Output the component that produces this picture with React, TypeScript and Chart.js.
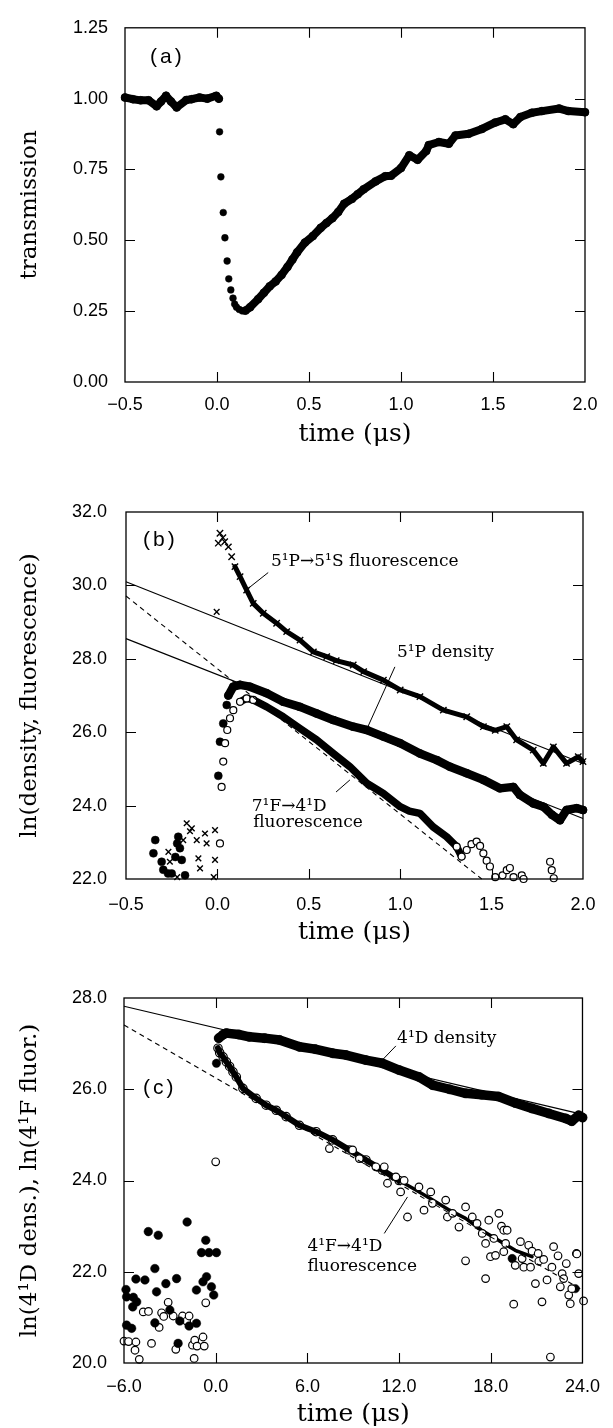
import React, { useEffect, useRef } from "react";
import { Chart, registerables } from "chart.js";

Chart.register(...registerables);

const W = 613;
const SERIF = '"DejaVu Serif", "Liberation Serif", serif';
const SANS = '"Liberation Sans", Arial, sans-serif';

// ---------------- Panel (a): transmission ----------------
const aXTicks = [-0.5, 0, 0.5, 1.0, 1.5, 2.0];
const aYTicks = [0, 0.25, 0.5, 0.75, 1.0, 1.25];
const aPreT = [-0.5, -0.457, -0.415, -0.372, -0.328, -0.304, -0.277, -0.25, -0.219, -0.167, -0.138, -0.095, -0.053, -0.004, 0.01];
const aPreV = [1.004, 0.998, 0.994, 0.994, 0.973, 0.99, 1.01, 0.99, 0.969, 0.995, 0.998, 1.004, 1.0, 1.01, 1.0];
const aDropT = [0.014, 0.021, 0.034, 0.043, 0.055, 0.064, 0.075, 0.087, 0.096, 0.106, 0.121, 0.138];
const aDropV = [0.883, 0.724, 0.598, 0.509, 0.427, 0.364, 0.325, 0.296, 0.275, 0.264, 0.256, 0.251];
const aRiseT = [0.155, 0.18, 0.223, 0.255, 0.287, 0.319, 0.351, 0.383, 0.41, 0.436, 0.478, 0.521, 0.564, 0.595, 0.627, 0.659, 0.691, 0.733, 0.765, 0.797, 0.862, 0.914, 0.946, 1.0, 1.045, 1.09, 1.137, 1.151, 1.206, 1.26, 1.296, 1.368, 1.44, 1.513, 1.567, 1.61, 1.649, 1.711, 1.766, 1.86, 1.91, 2.0];
const aRiseV = [0.252, 0.264, 0.292, 0.315, 0.338, 0.355, 0.378, 0.406, 0.432, 0.458, 0.492, 0.515, 0.544, 0.561, 0.578, 0.6, 0.629, 0.646, 0.663, 0.68, 0.708, 0.726, 0.728, 0.755, 0.8, 0.784, 0.815, 0.836, 0.847, 0.841, 0.87, 0.876, 0.893, 0.916, 0.927, 0.91, 0.935, 0.95, 0.956, 0.965, 0.956, 0.952];

// ---------------- Panel (b) ----------------
const bXTicks = [-0.5, 0, 0.5, 1.0, 1.5, 2.0];
const bYTicks = [22, 24, 26, 28, 30, 32];
// 5¹P→5¹S fluorescence (crosses)
const bFluT = [0.005, 0.014, 0.03, 0.04, 0.06, 0.078, 0.096, 0.124, 0.16, 0.196, 0.251, 0.324, 0.379, 0.452, 0.525, 0.598, 0.65, 0.743, 0.8, 0.908, 1.0, 1.108, 1.236, 1.364, 1.455, 1.52, 1.583, 1.637, 1.728, 1.783, 1.838, 1.91, 1.974, 2.0];
const bFluV = [31.15, 31.42, 31.3, 31.19, 31.05, 30.78, 30.51, 30.24, 29.87, 29.51, 29.24, 28.97, 28.74, 28.51, 28.19, 28.06, 27.95, 27.83, 27.65, 27.42, 27.15, 26.97, 26.6, 26.42, 26.15, 26.05, 26.15, 25.79, 25.51, 25.15, 25.6, 25.15, 25.33, 25.2];
const bFluOutT = [-0.004];
const bFluOutV = [29.28];
// 5¹P density (filled)
const bDenT = [0.005, 0.014, 0.032, 0.051, 0.06, 0.087, 0.124, 0.178, 0.27, 0.36, 0.452, 0.543, 0.634, 0.743, 0.817, 0.908, 1.0, 1.108, 1.2, 1.272, 1.364, 1.455, 1.546, 1.619, 1.655, 1.728, 1.783, 1.83, 1.874, 1.91, 1.965, 2.0];
const bDenV = [24.81, 25.74, 26.24, 26.74, 27.0, 27.24, 27.29, 27.24, 27.06, 26.83, 26.69, 26.51, 26.33, 26.15, 26.06, 25.88, 25.7, 25.42, 25.24, 25.06, 24.88, 24.7, 24.47, 24.51, 24.29, 24.06, 23.97, 23.75, 23.6, 23.88, 23.93, 23.88];
// 7¹F→4¹D fluorescence (open)
const b7fT = [0.023, 0.032, 0.042, 0.054, 0.069, 0.087, 0.124, 0.16, 0.196, 0.27, 0.36, 0.452, 0.543, 0.634, 0.725, 0.817, 0.908, 1.0, 1.05, 1.108, 1.18, 1.254, 1.309, 1.336, 1.364, 1.39, 1.418, 1.437, 1.455, 1.473, 1.491, 1.52];
const b7fV = [24.51, 25.2, 25.7, 26.06, 26.38, 26.6, 26.83, 26.92, 26.88, 26.69, 26.42, 26.1, 25.79, 25.42, 25.06, 24.61, 24.33, 23.97, 23.85, 23.79, 23.42, 23.15, 22.88, 22.61, 22.79, 22.95, 23.02, 22.9, 22.7, 22.5, 22.34, 22.05];
const b7fLateT = [1.56, 1.583, 1.6, 1.62, 1.665, 1.675, 1.82, 1.829, 1.84];
const b7fLateV = [22.1, 22.24, 22.3, 22.05, 22.1, 22.0, 22.47, 22.24, 22.02];
// pre-trigger noise
const bPreFT = [-0.35, -0.34, -0.305, -0.296, -0.27, -0.25, -0.23, -0.22, -0.214, -0.205, -0.195, -0.177];
const bPreFV = [22.7, 23.06, 22.47, 22.25, 22.15, 22.15, 22.6, 22.97, 23.15, 22.84, 22.52, 22.1];
const bPreXT = [-0.268, -0.26, -0.22, -0.187, -0.168, -0.15, -0.14, -0.113, -0.104, -0.095, -0.068, -0.059, -0.02, -0.013, -0.013];
const bPreXV = [22.74, 22.47, 22.05, 23.06, 23.52, 23.3, 23.38, 23.06, 22.56, 22.29, 23.24, 22.97, 22.05, 23.33, 22.52];
const bPreOT = [0.014];
const bPreOV = [22.97];
// fitted lines
const bFit1T = [-0.5, 2.0];
const bFit1V = [30.1, 25.15];
const bFit2T = [-0.5, 2.0];
const bFit2V = [28.55, 23.65];
const bFit3T = [-0.5, 1.446];
const bFit3V = [29.71, 22.0];

// ---------------- Panel (c) ----------------
const cXTicks = [-6, 0, 6, 12, 18, 24];
const cYTicks = [20, 22, 24, 26, 28];
const cDenT = [0.2, 0.5, 0.7, 1.5, 2.2, 3.2, 4.18, 5.48, 6.5, 7.65, 8.53, 9.83, 10.9, 12.0, 13.3, 14.2, 15.3, 16.35, 17.4, 18.5, 19.6, 20.7, 21.8, 22.9, 23.3, 23.75, 24.0];
const cDenV = [27.12, 27.2, 27.23, 27.2, 27.15, 27.12, 27.08, 26.93, 26.88, 26.79, 26.75, 26.64, 26.57, 26.42, 26.27, 26.09, 26.0, 25.91, 25.88, 25.84, 25.7, 25.58, 25.47, 25.36, 25.3, 25.43, 25.38];
const cDenLowT = [0.05];
const cDenLowV = [26.57];
const cFluT = [0.15, 0.26, 0.48, 0.7, 0.91, 1.13, 1.35, 1.78, 2.65, 3.3, 3.96, 4.61, 5.48, 6.57, 7.65, 8.74, 9.83, 10.9, 12.0];
const cFluV = [26.9, 26.8, 26.71, 26.6, 26.5, 26.38, 26.27, 26.02, 25.8, 25.65, 25.54, 25.4, 25.21, 25.07, 24.89, 24.67, 24.45, 24.23, 24.0];
const cFlu2T = [12.0, 13.1, 14.2, 15.3, 16.35, 17.4, 18.5, 19.6, 20.7];
const cFlu2V = [24.0, 23.79, 23.57, 23.35, 23.17, 22.91, 22.69, 22.47, 22.33];
const cScatT = [7.44, 8.96, 9.4, 10.48, 11.03, 11.24, 11.79, 12.33, 12.1, 12.55, 13.3, 13.63, 14.07, 14.18, 15.05, 15.16, 15.5, 15.92, 16.35, 16.79, 17.1, 17.44, 17.66, 17.87, 18.2, 18.53, 18.7, 18.85, 19.07, 18.97, 19.94, 20.48, 20.7, 21.1, 22.11, 22.4, 23.6, 16.35, 17.66, 17.98, 18.31, 18.85, 19.5, 19.6, 20.05, 20.16, 20.6, 20.92, 21.14, 21.35, 21.46, 21.68, 21.9, 22.0, 22.55, 22.67, 22.77, 22.94, 23.1, 23.2, 23.3, 23.63, 23.75, 24.07];
const cScatV = [24.7, 24.67, 24.48, 24.3, 24.3, 23.94, 24.08, 24.0, 23.75, 23.2, 23.86, 23.35, 23.75, 23.5, 23.57, 23.2, 23.28, 22.98, 23.42, 23.2, 23.06, 22.84, 22.62, 23.13, 22.73, 23.28, 23.0, 22.91, 22.91, 22.62, 22.66, 22.58, 22.45, 22.4, 22.55, 22.35, 22.4, 22.24, 21.85, 22.33, 22.36, 22.44, 21.29, 22.14, 22.29, 22.1, 22.1, 21.74, 22.23, 21.34, 22.27, 21.82, 20.13, 22.1, 21.67, 21.96, 21.85, 22.18, 21.49, 21.3, 21.63, 22.39, 21.96, 21.36];
const cScatFT = [19.4, 23.53];
const cScatFV = [22.29, 21.63];
const cPreFT = [-4.41, -3.76, -1.87, -0.65, -0.93, -0.44, 0.05, -5.87, -5.83, -5.22, -4.63, -3.98, -3.87, -5.39, -5.17, -5.43, -5.83, -5.5, -3.98, -3.26, -3.0, -2.56, -2.35, -2.46, -1.74, -1.26, -1.26, -0.83, -0.6, -0.28, -0.13];
const cPreFV = [22.88, 22.8, 23.09, 22.69, 22.42, 22.42, 22.42, 21.61, 21.45, 21.84, 21.82, 22.07, 21.56, 21.44, 21.34, 21.23, 20.83, 20.76, 20.88, 21.74, 21.16, 21.85, 20.92, 20.43, 20.81, 20.87, 21.6, 21.78, 21.89, 21.67, 21.49];
const cPreOT = [-6.0, -5.7, -5.22, -5.28, -5.0, -4.74, -4.4, -4.2, -3.7, -3.54, -3.4, -3.11, -2.78, -2.61, -2.17, -1.9, -1.74, -1.52, -1.37, -1.22, -1.41, -0.83, -0.75, -0.65, 0.0];
const cPreOV = [20.48, 20.47, 20.46, 20.28, 20.08, 21.12, 21.13, 20.43, 20.78, 21.1, 21.02, 21.33, 21.03, 20.3, 21.03, 20.92, 21.03, 20.39, 20.5, 20.37, 20.1, 20.57, 20.37, 21.32, 24.41];
const cFit1T = [-6, 24];
const cFit1V = [27.82, 25.45];
const cFit2T = [-6, 24];
const cFit2V = [27.41, 21.6];

// ---------------- helpers ----------------
const xy = (t: number[], v: number[]) => t.map((x, i) => ({ x, y: v[i] }));

function band(t: number[], v: number[], width: number) {
  return {
    data: xy(t, v), showLine: true, borderColor: "#000", borderWidth: width,
    pointRadius: 0, borderJoinStyle: "round", borderCapStyle: "round", tension: 0,
    clip: false, order: 3,
  };
}
function fit(t: number[], v: number[], dashed: boolean) {
  return {
    data: xy(t, v), showLine: true, borderColor: "#000", borderWidth: 1.1,
    borderDash: dashed ? [5, 4] : [], pointRadius: 0, clip: false, order: 0,
  };
}
function dots(t: number[], v: number[], kind: "filled" | "open" | "cross" | "ghost", r: number, order = 1) {
  return {
    data: xy(t, v), showLine: false, pointRadius: r,
    pointStyle: kind === "cross" ? "crossRot" : "circle",
    pointBackgroundColor: kind === "open" ? "#fff" : kind === "ghost" ? "rgba(0,0,0,0)" : "#000",
    pointBorderColor: "#000",
    pointBorderWidth: kind === "filled" ? 0.5 : kind === "cross" ? 1.4 : 1.2,
    clip: false, order,
  };
}

type Note = { text: string; t: number; v: number };
type Leader = [number, number, number, number];

interface PanelSpec {
  top: number;
  height: number;
  area: { left: number; right: number; top: number; bottom: number };
  xTicks: number[];
  yTicks: number[];
  xDec: number;
  yDec: number;
  xPad: number;
  yPad: number;
  xTitle: string;
  yTitle: string;
  xTitlePad: number;
  yTitlePad: number;
  datasets: any[];
  notes: Note[];
  leaders: Leader[];
  tag: { text: string; dx: number; dy: number };
}

const fmt = (v: number, dec: number) => {
  const s = Math.abs(v).toFixed(dec);
  return v < -1e-9 ? "\u2212" + s : s;
};

function buildConfig(s: PanelSpec): any {
  const decor = {
    id: "decor",
    afterDraw(chart: any) {
      const ctx = chart.ctx as CanvasRenderingContext2D;
      const a = chart.chartArea;
      const xs = chart.scales.x;
      const ys = chart.scales.y;
      ctx.save();
      ctx.strokeStyle = "#000";
      ctx.lineWidth = 1.3;
      ctx.strokeRect(a.left, a.top, a.right - a.left, a.bottom - a.top);
      ctx.lineWidth = 1.1;
      const TL = 10;
      ctx.beginPath();
      for (const t of s.xTicks) {
        const px = Math.round(xs.getPixelForValue(t)) + 0.5;
        if (px - a.left < 3 || a.right - px < 3) continue;
        ctx.moveTo(px, a.bottom); ctx.lineTo(px, a.bottom - TL);
        ctx.moveTo(px, a.top); ctx.lineTo(px, a.top + TL);
      }
      for (const v of s.yTicks) {
        const py = Math.round(ys.getPixelForValue(v)) + 0.5;
        if (py - a.top < 3 || a.bottom - py < 3) continue;
        ctx.moveTo(a.left, py); ctx.lineTo(a.left + TL, py);
        ctx.moveTo(a.right, py); ctx.lineTo(a.right - TL, py);
      }
      ctx.stroke();
      // leader lines
      ctx.lineWidth = 1;
      ctx.beginPath();
      for (const [t1, v1, t2, v2] of s.leaders) {
        ctx.moveTo(xs.getPixelForValue(t1), ys.getPixelForValue(v1));
        ctx.lineTo(xs.getPixelForValue(t2), ys.getPixelForValue(v2));
      }
      ctx.stroke();
      // notes
      ctx.fillStyle = "#000";
      ctx.textAlign = "left";
      ctx.textBaseline = "middle";
      ctx.font = `17px ${SERIF}`;
      for (const n of s.notes) {
        ctx.fillText(n.text, xs.getPixelForValue(n.t), ys.getPixelForValue(n.v));
      }
      // panel tag
      ctx.font = `21px ${SANS}`;
      (ctx as any).letterSpacing = "3px";
      ctx.fillText(s.tag.text, a.left + s.tag.dx, a.top + s.tag.dy);
      ctx.restore();
    },
  };

  const last = (arr: number[]) => arr[arr.length - 1];

  return {
    type: "scatter",
    data: { datasets: s.datasets },
    options: {
      responsive: false,
      maintainAspectRatio: false,
      animation: false,
      events: [],
      layout: { padding: { left: 0, top: s.area.top, right: W - s.area.right, bottom: 0 } },
      plugins: { legend: { display: false }, tooltip: { enabled: false } },
      scales: {
        x: {
          type: "linear",
          position: "bottom",
          min: s.xTicks[0],
          max: last(s.xTicks),
          afterBuildTicks: (sc: any) => { sc.ticks = s.xTicks.map((value) => ({ value })); },
          afterFit: (sc: any) => { sc.height = s.height - s.area.bottom; },
          grid: { display: false, drawTicks: false },
          border: { display: false },
          ticks: {
            color: "#000", font: { family: SANS, size: 18 }, padding: s.xPad,
            maxRotation: 0, autoSkip: false,
            callback: (v: any) => fmt(Number(v), s.xDec),
          },
          title: {
            display: true, text: s.xTitle, color: "#000",
            font: { family: SERIF, size: 25, lineHeight: 1 },
            padding: { top: 0, bottom: s.xTitlePad },
          },
        },
        y: {
          type: "linear",
          position: "left",
          min: s.yTicks[0],
          max: last(s.yTicks),
          afterBuildTicks: (sc: any) => { sc.ticks = s.yTicks.map((value) => ({ value })); },
          afterFit: (sc: any) => { sc.width = s.area.left; },
          grid: { display: false, drawTicks: false },
          border: { display: false },
          ticks: {
            color: "#000", font: { family: SANS, size: 18 }, padding: s.yPad,
            autoSkip: false,
            callback: (v: any) => fmt(Number(v), s.yDec),
          },
          title: {
            display: true, text: s.yTitle, color: "#000",
            font: { family: SERIF, size: 23, lineHeight: 1 },
            padding: { top: s.yTitlePad, bottom: 0 },
          },
        },
      },
    },
    plugins: [decor],
  };
}

// ---------------- panel specs ----------------
const SPEC_A: PanelSpec = {
  top: 0, height: 460,
  area: { left: 125, right: 585, top: 18, bottom: 382 },
  xTicks: aXTicks, yTicks: aYTicks, xDec: 1, yDec: 2,
  xPad: 12, yPad: 17,
  xTitle: "time (\u03bcs)", yTitle: "transmission",
  xTitlePad: 13, yTitlePad: 18.5,
  datasets: [
    dots(aDropT, aDropV, "filled", 3.4),
    dots(aPreT, aPreV, "filled", 4, 2),
    band(aPreT, aPreV, 8),
    dots(aRiseT, aRiseV, "filled", 4, 2),
    band(aRiseT, aRiseV, 8),
  ],
  notes: [],
  leaders: [],
  tag: { text: "(a)", dx: 25, dy: 29 },
};

const SPEC_B: PanelSpec = {
  top: 450, height: 500,
  area: { left: 126, right: 583, top: 62, bottom: 429 },
  xTicks: bXTicks, yTicks: bYTicks, xDec: 1, yDec: 1,
  xPad: 15, yPad: 19,
  xTitle: "time (\u03bcs)", yTitle: "ln(density, fluorescence)",
  xTitlePad: 5, yTitlePad: 19,
  datasets: [
    fit(bFit1T, bFit1V, false),
    fit(bFit2T, bFit2V, false),
    fit(bFit3T, bFit3V, true),
    dots(bFluT, bFluV, "cross", 4.5),
    dots(bFluOutT, bFluOutV, "cross", 4),
    band(bFluT.slice(6), bFluV.slice(6), 5),
    dots(bDenT, bDenV, "filled", 4, 2),
    band(bDenT.slice(4), bDenV.slice(4), 8.5),
    dots(b7fT.slice(0, 9), b7fV.slice(0, 9), "open", 3.5),
    dots(b7fT.slice(22), b7fV.slice(22), "open", 3.5),
    band(b7fT.slice(6, 24), b7fV.slice(6, 24), 7.5),
    dots(b7fLateT, b7fLateV, "open", 3.5),
    dots(bPreFT, bPreFV, "filled", 4),
    dots(bPreXT, bPreXV, "cross", 4),
    dots(bPreOT, bPreOV, "open", 3.5),
  ],
  notes: [
    { text: "5\u00b9P\u21925\u00b9S fluorescence", t: 0.293, v: 30.64 },
    { text: "5\u00b9P density", t: 0.982, v: 28.16 },
    { text: "7\u00b9F\u21924\u00b9D", t: 0.188, v: 23.97 },
    { text: "fluorescence", t: 0.196, v: 23.53 },
  ],
  leaders: [
    [0.278, 30.35, 0.169, 29.92],
    [0.971, 27.78, 0.817, 26.08],
    [0.649, 24.37, 0.725, 24.7],
  ],
  tag: { text: "(b)", dx: 17, dy: 28 },
};

const SPEC_C: PanelSpec = {
  top: 950, height: 478,
  area: { left: 124, right: 584, top: 48, bottom: 413 },
  xTicks: cXTicks, yTicks: cYTicks, xDec: 1, yDec: 1,
  xPad: 13, yPad: 17,
  xTitle: "time (\u03bcs)", yTitle: "ln(4\u00b9D dens.), ln(4\u00b9F fluor.)",
  xTitlePad: 1, yTitlePad: 19,
  datasets: [
    fit(cFit1T, cFit1V, false),
    fit(cFit2T, cFit2V, true),
    dots(cDenT, cDenV, "filled", 4.6, 2),
    band(cDenT, cDenV, 9.5),
    dots(cDenLowT, cDenLowV, "filled", 4.2),
    dots(cFluT, cFluV, "ghost", 4.2, 2),
    band(cFluT, cFluV, 6),
    band(cFlu2T, cFlu2V, 3.5),
    dots(cScatT, cScatV, "open", 3.8),
    dots(cScatFT, cScatFV, "filled", 4.2),
    dots(cPreFT, cPreFV, "filled", 4.3),
    dots(cPreOT, cPreOV, "open", 3.8),
  ],
  notes: [
    { text: "4\u00b9D density", t: 11.87, v: 27.12 },
    { text: "4\u00b9F\u21924\u00b9D", t: 6.0, v: 22.55 },
    { text: "fluorescence", t: 6.0, v: 22.11 },
  ],
  leaders: [
    [11.79, 26.95, 10.7, 26.57],
    [11.03, 22.84, 12.55, 23.64],
  ],
  tag: { text: "(c)", dx: 19, dy: 90 },
};

function Panel({ spec }: { spec: PanelSpec }) {
  const ref = useRef<HTMLCanvasElement>(null);
  useEffect(() => {
    const canvas = ref.current;
    if (!canvas) return;
    const chart = new Chart(canvas, buildConfig(spec));
    return () => chart.destroy();
  }, [spec]);
  return (
    <canvas
      ref={ref}
      width={W}
      height={spec.height}
      style={{ position: "absolute", left: 0, top: spec.top, width: W, height: spec.height }}
    />
  );
}

export default function App() {
  return (
    <div style={{ position: "absolute", left: 0, top: 0, width: W, height: 1428, background: "#fff", overflow: "hidden" }}>
      <Panel spec={SPEC_A} />
      <Panel spec={SPEC_B} />
      <Panel spec={SPEC_C} />
    </div>
  );
}
